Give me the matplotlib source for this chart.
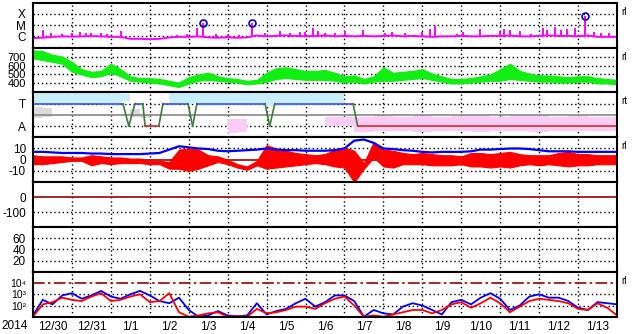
import numpy as np
import matplotlib
matplotlib.use('Agg')
import matplotlib.pyplot as plt
from matplotlib.ticker import NullLocator

plt.rcParams['font.family'] = ['Liberation Sans', 'DejaVu Sans']

nan = np.nan

# x axis: days since 12/30 00:00, 15 days
day_labels = ['12/30', '12/31', '1/1', '1/2', '1/3', '1/4', '1/5', '1/6', '1/7',
              '1/8', '1/9', '1/10', '1/11', '1/12', '1/13']
year_label = '2014'

# ---- x-ray flux (W/m2): 6-hourly background + spikes + flagged flares
xray_base = [7e-7, 7.5e-7,
             9e-7, 1e-6, 9.5e-7, 1e-6, 1.05e-6, 1e-6, 9e-7, 9e-7,
             6e-7, 6e-7, 5.5e-7, 6e-7,
             8e-7, 9e-7, 9e-7, 1e-6,
             8e-7, 7.5e-7, 8e-7, 7.5e-7, 8e-7,
             1.2e-6, 1e-6, 1.1e-6, 1.2e-6, 1.1e-6, 1e-6, 1.1e-6, 1.2e-6, 1e-6,
             1.1e-6, 1e-6, 1.1e-6, 1e-6, 1.1e-6, 1.2e-6, 1e-6, 1.1e-6, 1e-6,
             9e-7, 1e-6, 1e-6, 1.1e-6, 1e-6, 1e-6, 1.1e-6, 1.1e-6, 1.2e-6, 1e-6,
             1e-6, 1.1e-6, 1.2e-6, 1.1e-6, 1.1e-6, 1e-6, 1.2e-6, 9e-7, 9e-7, 9e-7]
spike_t = [0.26, 0.46, 0.75, 1.0, 1.2, 1.35, 1.5, 1.75, 1.9, 2.25, 3.7, 3.95, 4.2,
           4.36, 4.7, 5.0, 5.3, 5.62, 5.96, 6.34, 6.6, 6.85, 6.98, 7.19, 7.32, 7.5,
           7.75, 8.01, 8.47, 9.04, 9.22, 9.55, 9.99, 10.2, 10.32, 10.9, 11.04, 11.48,
           11.99, 12.1, 12.25, 12.5, 12.8, 13.09, 13.2, 13.4, 13.55, 13.71, 13.92,
           14.19, 14.4, 14.6, 14.8]
spike_f = [3.7e-6, 2e-6, 1.7e-6, 2e-6, 2.5e-6, 2e-6, 1.8e-6, 2e-6, 1.7e-6, 3e-6,
           1.35e-6, 1.7e-6, 5.6e-6, 1.5e-5, 1.5e-6, 1.7e-6, 1.35e-6, 1.5e-5, 2e-6,
           3e-6, 2e-6, 2.5e-6, 2.5e-6, 5.6e-6, 3e-6, 2e-6, 2e-6, 3e-6, 3.7e-6, 2e-6,
           2.5e-6, 2e-6, 2.5e-6, 4.5e-6, 8e-6, 1.7e-6, 2.5e-6, 4.6e-6, 3e-6, 4.6e-6,
           3.7e-6, 3e-6, 1.7e-6, 5.6e-6, 3.7e-6, 7e-6, 3.7e-6, 4.6e-6, 5.6e-6,
           6.6e-5, 2.5e-6, 2e-6, 2e-6]
flare_t = [4.36, 5.62, 14.19]
flare_f = [1.5e-5, 1.5e-5, 6.6e-5]

# ---- solar wind speed (km/s), 6-hourly low/high
speed_lo = [680, 660, 640, 620, 530, 500, 470, 480, 520, 480,
            430, 420, 410, 400, 380, 360, 400, 430, 440, 430,
            420, 410, 390, 400, 420, 450, 460, 450, 440, 440,
            440, 430, 410, 420, 400, 420, 430, 430, 440, 450,
            460, 440, 420, 400, 400, 410, 420, 430, 430, 450,
            440, 430, 420, 420, 410, 410, 420, 420, 400, 400,
            390]
speed_hi = [770, 760, 720, 700, 640, 560, 530, 540, 620, 560,
            480, 460, 460, 450, 430, 410, 470, 500, 520, 480,
            460, 450, 430, 440, 520, 570, 580, 560, 540, 540,
            550, 520, 480, 490, 450, 480, 580, 520, 530, 540,
            560, 510, 480, 450, 450, 460, 480, 500, 560, 620,
            540, 510, 490, 490, 480, 470, 480, 480, 460, 450,
            440]

# ---- IMF sector (3 = toward, 1 = away) and 12-hourly angle clouds
sector_t = [0, 2.31, 2.46, 2.62, 2.82, 2.88, 3.23, 3.34, 3.98, 4.10, 4.21,
            5.96, 6.08, 6.21, 8.22, 8.34, 15]
sector_v = [3, 3, 1, 3, 3, 1, 1, 3, 3, 1, 3, 3, 1, 3, 3, 1, 1]
cyan_hi = [3.95, 3.95, 3.95, 3.95, 3.95, 3.9, nan, 3.95, 3.95, 3.95, 3.95, 3.95,
           3.95, 3.95, 3.95, 3.95, 3.95, nan, nan, nan, nan, nan, nan, nan, nan,
           nan, nan, nan, nan, nan, nan]
cyan_lo = [2.9, 3.0, 2.9, 3.0, 2.9, 3.2, nan, 2.9, 3.0, 2.8, 2.9, 2.9,
           2.9, 2.8, 2.9, 2.9, 3.0, nan, nan, nan, nan, nan, nan, nan, nan,
           nan, nan, nan, nan, nan, nan]
pink_hi = [nan, nan, 1.6, nan, nan, nan, nan, nan, 1.6, nan, 1.6, 1.6, nan, nan,
           nan, 1.8, 1.8, 1.8, 1.9, 1.8, 1.9, 1.8, 1.9, 1.9, 1.8, 1.9, 1.9, 1.8,
           1.9, 1.8, 1.8]
pink_lo = [nan, nan, 1.1, nan, nan, nan, nan, nan, 0.4, nan, 0.4, 0.5, nan, nan,
           nan, 1.0, 1.0, 0.5, 0.6, 0.6, 0.5, 0.6, 0.6, 0.5, 0.6, 0.6, 0.5, 0.6,
           0.6, 0.6, 0.6]
gray_hi = [2.7, 2.6, nan, nan, nan, 2.5, 2.0, nan, nan, nan, nan, nan, nan, nan,
           nan, nan, nan, 1.1, nan, nan, nan, nan, nan, nan, nan, nan, nan, nan,
           nan, nan, nan]
gray_lo = [1.7, 1.8, nan, nan, nan, 1.8, 1.7, nan, nan, nan, nan, nan, nan, nan,
           nan, nan, nan, 0.1, nan, nan, nan, nan, nan, nan, nan, nan, nan, nan,
           nan, nan, nan]

# ---- IMF (nT): Bt line, Bz low/high, 6-hourly
bt = [7, 7, 6.5, 6, 6, 6, 5.5, 5.5, 5, 5,
      5, 5, 5.5, 6, 9, 12, 11, 10, 9.5, 8,
      7.5, 8, 8.5, 9, 10, 9, 8.5, 8.5, 8, 8,
      8, 8.5, 10, 17, 18, 15, 10, 9.5, 8.5, 8,
      7, 6.5, 7, 7, 7, 7.5, 9, 9, 9.5, 10,
      10, 9.5, 8.5, 7.5, 7.5, 7.5, 7, 7, 7, 7,
      7]
bz_lo = [-4, -4, -3, -2, -1, -1, -5, -3, -4, -3,
         -3, -3, -4, -4, -8, -8, -10, -8, -5, -2,
         -4, -7, -9, -5, -8, -7, -6, -5, -4, -3,
         -4, -6, -7, -20, -8, 2, -6, -7, -4, -4,
         -4, -5, -5, -5, -4, -6, -6, -7, -6, -7,
         -5, -4, -5, -4, -5, -6, -5, -5, -4, -4,
         -4]
bz_hi = [4, 3, 3, 3, 2, 2, 4, 3, 2, 2,
         1, 1, -1, -1, -2, 9, 10, 9, 4, 3,
         0, -4, -6, -1, 13, 10, 8, 6, 5, 4,
         5, 9, 11, 8, -3, 16, 9, 8, 6, 5,
         6, 5, 4, 4, 3, 6, 6, 5, 6, 7,
         5, 4, 4, 4, 6, 7, 5, 5, 4, 4,
         4]

# ---- electron flux, two satellites, 6-hourly
elec_blue = [13, 320, 126, 790, 1260, 400, 790, 2000, 630, 400,
             1000, 2000, 790, 250, 160, 500, 40, 10, 13, 32,
             13, 11, 13, 160, 16, 32, 50, 160, 400, 79,
             200, 790, 790, 250, 10, 40, 20, 16, 79, 160,
             100, 40, 16, 200, 320, 126, 500, 1260, 400, 40,
             100, 630, 1000, 500, 500, 250, 63, 40, 200, 160,
             126]
elec_red = [10, 126, 200, 500, 320, 250, 630, 1260, 250, 320,
            630, 1000, 200, 250, 1260, 25, 10, 13, 20, 25,
            10, 11, 10, 50, 20, 25, 40, 79, 79, 50,
            160, 400, 630, 100, 10, 13, 10, 16, 25, 40,
            40, 20, 40, 126, 200, 63, 158, 500, 158, 25,
            79, 250, 400, 320, 250, 158, 50, 40, 158, 63,
            13]

t6 = np.arange(len(bt)) * 0.25
t12 = np.arange(len(cyan_hi)) * 0.5

W, Hf = 633, 334
fig = plt.figure(figsize=(W / 100, Hf / 100), dpi=100)
ph = 44.86
axes = []
for k in range(7):
    top = 2.7 + ph * k
    ax = fig.add_axes([33 / W, 1 - (top + ph) / Hf, 584 / W, ph / Hf])
    axes.append(ax)

dot = (0, (1, 2))
darkred = '#a00000'
fs = 8.5


def setup(ax, ylim, ticks, labels, dotted, log=False, tag=None, size=fs):
    if log:
        ax.set_yscale('log')
    ax.set_xlim(0, 15)
    ax.set_ylim(*ylim)
    ax.set_yticks(ticks)
    ax.set_yticklabels(labels)
    ax.yaxis.set_minor_locator(NullLocator())
    ax.set_xticks([])
    ax.tick_params(axis='y', length=0, pad=5, labelsize=size)
    for d in range(1, 15):
        ax.axvline(d, color='black', lw=1, ls=dot, zorder=0.5)
    for g in dotted:
        ax.axhline(g, color='black', lw=1, ls=dot, zorder=0.5)
    for s in ax.spines.values():
        s.set_linewidth(1.5)
    if tag:
        ax.text(1.007, 0.8, tag, transform=ax.transAxes, fontsize=7,
                ha='left', va='center')


# panel 1: x-ray
ax = axes[0]
setup(ax, (1e-7, 1e-3), [1e-4, 1e-5, 1e-6], ['X', 'M', 'C'],
      [1e-4, 1e-5, 1e-6], log=True, tag='rl')
ax.vlines(spike_t, 8e-7, spike_f, color='#ff00ff', lw=1.4)
ax.plot(t6, xray_base, color='#ff00ff', lw=1.4)
ax.plot(flare_t, flare_f, 'o', mfc='none', mec='#0000dd', ms=5, mew=1.2)

# panel 2: speed
ax = axes[1]
setup(ax, (300, 800), [700, 600, 500, 400], ['700', '600', '500', '400'],
      [700, 600, 500, 400], tag='rl', size=8)
ax.fill_between(t6, speed_lo, speed_hi, color='#11ee11', lw=0.8, edgecolor='#11ee11')

# panel 3: sector
ax = axes[2]
setup(ax, (0, 4), [3, 1], ['T', 'A'], [3, 1], tag='rt')
ax.fill_between(t12, cyan_lo, cyan_hi, step='mid', color='#c8eef9', lw=0)
ax.fill_between(t12, gray_lo, gray_hi, step='mid', color='#dcdcdc', lw=0)
ax.fill_between(t12, pink_lo, pink_hi, step='mid', color='#f9cdf5', lw=0)
ax.axhline(2, color='#888888', lw=1.2)
for i in range(len(sector_t) - 1):
    v0, v1 = sector_v[i], sector_v[i + 1]
    if v0 == v1 == 3:
        c = '#4050e0'
    elif v0 == v1 == 1:
        c = '#e02828'
    else:
        c = '#3c7c3c'
    ax.plot(sector_t[i:i + 2], sector_v[i:i + 2], color=c, lw=1.2)

# panel 4: IMF
ax = axes[3]
setup(ax, (-20, 20), [10, 0, -10], ['10', '0', '-10'], [10, -10], tag='rl')
ax.axhline(0, color=darkred, lw=1.2, zorder=0.6)
ax.plot(t6, bt, color='#0000ff', lw=1.6)
ax.fill_between(t6, bz_lo, bz_hi, color='#ff0000', lw=0.8, edgecolor='#ff0000')

# panel 5: Dst (no data)
ax = axes[4]
setup(ax, (-200, 100), [0, -100], ['0', '-100'], [-100])
ax.axhline(0, color=darkred, lw=1.2)

# panel 6: (no data)
ax = axes[5]
setup(ax, (0, 80), [60, 40, 20], ['60', '40', '20'], [60, 40, 20])

# panel 7: electrons
ax = axes[6]
setup(ax, (10, 1e5), [1e4, 1e3, 1e2], ['10\u2074', '10\u00b3', '10\u00b2'],
      [1e3, 1e2], log=True, tag='rl', size=7.5)
ax.axhline(1e4, color=darkred, lw=1.2, ls=(0, (7, 2, 1.5, 2)))
ax.plot(t6, elec_blue, color='#0000ff', lw=1.3)
ax.plot(t6, elec_red, color='#ff0000', lw=1.3)
ax.set_xticks(np.arange(15) + 0.5)
ax.set_xticklabels(day_labels)
ax.tick_params(axis='x', length=0, pad=3, labelsize=fs)

fig.text(15 / W, 1 - 326 / Hf, year_label, ha='center', va='center', fontsize=fs)

fig.savefig('out.png', dpi=100)
